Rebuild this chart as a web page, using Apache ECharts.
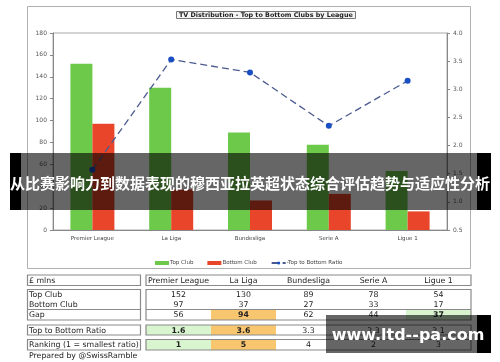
<!DOCTYPE html>
<html><head><meta charset="utf-8">
<style>html,body{margin:0;padding:0;background:#fff;}#c{width:500px;height:362px;}</style>
<script src="https://cdn.jsdelivr.net/npm/echarts@6/dist/echarts.min.js"></script>
</head><body><div id="c"></div>
<script>
var categories = ['Premier League', 'La Liga', 'Bundesliga', 'Serie A', 'Ligue 1'];
var topClub = [152, 130, 89, 78, 54];
var bottomClub = [97, 37, 27, 33, 17];
var ratio = [1.57, 3.53, 3.3, 2.35, 3.15];
var gapRow = ['56', '94', '62', '44', '37'];
var ratioRow = ['1.6', '3.6', '3.3', '2.3', '3.1'];
var rankRow = ['1', '5', '4', '2', '3'];
var rowLabels = ['Top Club', 'Bottom Club', 'Gap', 'Top to Bottom Ratio', 'Ranking (1 = smallest ratio)'];
var chartTitle = 'TV Distribution - Top to Bottom Clubs by League';
var bannerText = '从比赛影响力到数据表现的穆西亚拉英超状态综合评估趋势与适应性分析';
var watermark = 'www.ltd--pa.com';

var F = 'DejaVu Sans';
var ORANGE = '#f9c670', LGREEN = '#d8f5d0', BORDER = '#8a8a8a';
var colX0 = 146, colW = 65;

var g = [];
g.push({type:'rect', shape:{x:27.5,y:6.5,width:443,height:262}, style:{fill:'none',stroke:'#b0b0b0',lineWidth:1}, z:0});
function box(x,y,w,h,fill){ g.push({type:'rect', shape:{x:x,y:y,width:w,height:h}, style:{fill:fill||'none',stroke:BORDER,lineWidth:1.2}, z:5}); }
function cell(x,y,w,h,fill){ g.push({type:'rect', shape:{x:x,y:y,width:w,height:h}, style:{fill:fill,stroke:null}, z:4}); }
function txt(t,x,y,opt){ opt=opt||{}; g.push({type:'text', x:x, y:y, style:{text:t, fill:'#222', font:(opt.bold?'bold ':'')+(opt.size||7.8)+'px "'+F+'"', textAlign:opt.align||'left', textVerticalAlign:'middle'}, z:6}); }

var rows = {gap:[309.5,10.5], ratio:[325,10], rank:[339.5,10.5]};
function fillFor(rowName, i){
  if (i === 1) return ORANGE;
  if (rowName === 'gap' && i === 4) return LGREEN;
  if ((rowName === 'ratio' || rowName === 'rank') && i === 0) return LGREEN;
  return null;
}
['gap','ratio','rank'].forEach(function(r){
  for (var i=0;i<5;i++){ var f=fillFor(r,i); if(f) cell(colX0+i*colW, rows[r][0], colW, rows[r][1], f); }
});

box(27.5,275,113,10.5); box(colX0,275,325,10.5);
box(27.5,289.5,113,30.5); box(colX0,289.5,325,30.5);
g.push({type:'line', shape:{x1:27.5,y1:309.5,x2:140.5,y2:309.5}, style:{stroke:BORDER,lineWidth:1}, z:5});
g.push({type:'line', shape:{x1:colX0,y1:309.5,x2:471,y2:309.5}, style:{stroke:BORDER,lineWidth:1}, z:5});
box(27.5,325,113,10); box(colX0,325,325,10);
box(27.5,339.5,113,10.5); box(colX0,339.5,325,10.5);

txt('£ mlns',29,280.5);
txt(rowLabels[0],29,295); txt(rowLabels[1],29,305); txt(rowLabels[2],29,315);
txt(rowLabels[3],29,330.5); txt(rowLabels[4],29,345);
txt('Prepared by @SwissRamble',29,356);
for (var i=0;i<5;i++){
  var cx = colX0 + i*colW + colW/2;
  txt(categories[i], cx, 280.5, {align:'center'});
  txt(String(topClub[i]), cx, 295, {align:'center'});
  txt(String(bottomClub[i]), cx, 305, {align:'center'});
  txt(gapRow[i], cx, 315, {align:'center', bold: !!fillFor('gap',i)});
  txt(ratioRow[i], cx, 330.5, {align:'center', bold: !!fillFor('ratio',i)});
  txt(rankRow[i], cx, 345, {align:'center', bold: !!fillFor('rank',i)});
}

g.push({type:'rect', shape:{x:10,y:153,width:11,height:57}, style:{fill:'#000'}, z:20});
g.push({type:'rect', shape:{x:21,y:153,width:456,height:57}, style:{fill:'rgba(0,0,0,0.6)'}, z:20});
g.push({type:'rect', shape:{x:477,y:153,width:14,height:57}, style:{fill:'#000'}, z:20});
g.push({type:'text', x:250, y:183, style:{text:bannerText, fill:'#fff', font:'bold 15px "Noto Sans CJK SC"', textAlign:'center', textVerticalAlign:'middle'}, z:21});
g.push({type:'rect', shape:{x:326,y:315,width:151,height:38}, style:{fill:'rgba(0,0,0,0.6)'}, z:20});
g.push({type:'rect', shape:{x:477,y:315,width:14,height:38}, style:{fill:'#000'}, z:20});
g.push({type:'text', x:408, y:336, style:{text:watermark, fill:'#fff', font:'bold 16px "DejaVu Sans"', textAlign:'center', textVerticalAlign:'middle'}, z:21});

var chart = echarts.init(document.getElementById('c'), null, {renderer:'canvas'});
var axisLab = {color:'#555', fontSize:6, fontFamily:F};
chart.setOption({
  animation:false,
  backgroundColor:'#fff',
  title:{text:chartTitle, left:176, top:11, padding:[1,3], borderColor:'#777', borderWidth:1, backgroundColor:'#f4f4f4',
    textStyle:{fontSize:6.4, fontWeight:'bold', fontFamily:F, color:'#222'}},
  grid:{left:53, right:53, top:33, bottom:132, show:true, borderColor:'#aaa', borderWidth:1},
  legend:{left:150, top:255, itemWidth:14, itemHeight:4, itemGap:14, textStyle:{fontSize:5.5, fontFamily:F, color:'#444', padding:[0,0,0,-4]},
    data:[{name:'Top Club', icon:'rect'},{name:'Bottom Club', icon:'rect'},{name:'-Top to Bottom Ratio'}]},
  xAxis:{type:'category', data:categories, axisLine:{lineStyle:{color:'#888'}}, axisTick:{length:3, lineStyle:{color:'#888'}},
    axisLabel:{color:'#444', fontSize:5.5, fontFamily:F, margin:6}},
  yAxis:[
    {type:'value', min:0, max:180, interval:20, splitLine:{show:false}, axisLine:{show:true, lineStyle:{color:'#888'}}, axisTick:{show:true, length:3, lineStyle:{color:'#888'}}, axisLabel:Object.assign({margin:6}, axisLab)},
    {type:'value', min:0.5, max:4.0, interval:0.5, position:'right', splitLine:{show:false}, axisLine:{show:true, lineStyle:{color:'#888'}}, axisTick:{show:true, length:3, lineStyle:{color:'#888'}},
      axisLabel:Object.assign({margin:6, formatter:function(v){return v.toFixed(1);}}, axisLab)}
  ],
  series:[
    {name:'Top Club', type:'bar', data:topClub, barWidth:22, barGap:'0%', itemStyle:{color:'#6cc94a'}},
    {name:'Bottom Club', type:'bar', data:bottomClub, barWidth:22, barGap:'0%', itemStyle:{color:'#e8452a'}},
    {name:'-Top to Bottom Ratio', type:'line', yAxisIndex:1, data:ratio, symbol:'circle', symbolSize:6,
      lineStyle:{color:'#4a5a8e', width:1.3, type:[7,4]}, itemStyle:{color:'#1a4fc4'}, z:5}
  ],
  graphic:g
});
</script></body></html>
